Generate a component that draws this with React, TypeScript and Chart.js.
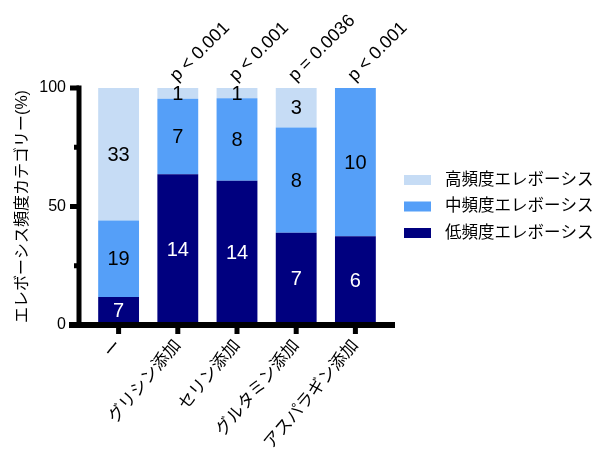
import React, { useEffect, useRef } from "react";
import { Chart, registerables } from "chart.js";

Chart.register(...registerables);

const categories = ["ー", "グリシン添加", "セリン添加", "グルタミン添加", "アスパラギン添加"];
const lowCounts = [7, 14, 14, 7, 6];
const midCounts = [19, 7, 8, 8, 10];
const highCounts = [33, 1, 1, 3, 0];
const seriesNames = ["低頻度エレボーシス", "中頻度エレボーシス", "高頻度エレボーシス"];
const seriesColors = ["#00007F", "#559FF8", "#C6DCF5"];
const labelColors = ["#FFFFFF", "#000000", "#000000"];
const pLabels = ["", "p < 0.001", "p < 0.001", "p = 0.0036", "p < 0.001"];
const majorTicks = [0, 50, 100];
const minorTicks = [25, 75];
const yTitle = "エレボーシス頻度カテゴリー(%)";

const FONT = "'Liberation Sans', Arial, 'Noto Sans CJK JP', sans-serif";

const totals = categories.map((_, i) => lowCounts[i] + midCounts[i] + highCounts[i]);
const toPct = (arr: number[]) => arr.map((v, i) => (v / totals[i]) * 100);
const countSeries = [lowCounts, midCounts, highCounts];

const decorPlugin = {
  id: "decor",
  afterDatasetsDraw(chart: any) {
    const ctx = chart.ctx;
    const ca = chart.chartArea;
    const x = chart.scales.x;
    const y = chart.scales.y;
    ctx.save();
    // data labels
    ctx.font = `20px ${FONT}`;
    ctx.textAlign = "center";
    ctx.textBaseline = "middle";
    chart.data.datasets.forEach((ds: any, di: number) => {
      const meta = chart.getDatasetMeta(di);
      meta.data.forEach((el: any, i: number) => {
        const c = countSeries[di][i];
        if (!c) return;
        ctx.fillStyle = labelColors[di];
        ctx.fillText(String(c), el.x, (el.y + el.base) / 2 + 1);
      });
    });
    // axes
    ctx.fillStyle = "#000";
    const axisX = ca.left - 10;
    const y0 = y.getPixelForValue(0);
    const y100 = y.getPixelForValue(100);
    ctx.fillRect(axisX - 2.5, y100 - 2.5, 5, y0 - y100 + 2.5);
    majorTicks.forEach((v) => {
      const py = y.getPixelForValue(v);
      ctx.fillRect(axisX - 9, py - 2.5, 9, 5);
    });
    minorTicks.forEach((v) => {
      const py = y.getPixelForValue(v);
      ctx.fillRect(axisX - 5, py - 2.5, 5, 5);
    });
    ctx.fillRect(ca.left - 20, y0 - 3, ca.right + 10 - (ca.left - 20), 6);
    categories.forEach((_, i) => {
      const px = x.getPixelForValue(i);
      ctx.fillRect(px - 2.5, y0 + 3, 5, 6);
    });
    // p labels
    ctx.font = `18px ${FONT}`;
    ctx.textAlign = "left";
    ctx.textBaseline = "alphabetic";
    ctx.fillStyle = "#000";
    pLabels.forEach((t, i) => {
      if (!t) return;
      const px = x.getPixelForValue(i) - 1;
      ctx.save();
      ctx.translate(px, ca.top - 6);
      ctx.rotate(-Math.PI / 4);
      ctx.fillText(t, 0, 0);
      ctx.restore();
    });
    // legend
    ctx.font = `16.5px ${FONT}`;
    ctx.textBaseline = "middle";
    const midY = (ca.top + ca.bottom) / 2;
    const order = [2, 1, 0];
    order.forEach((di, k) => {
      const ry = midY + (k - 1) * 26.5;
      ctx.fillStyle = chart.data.datasets[di].backgroundColor;
      ctx.fillRect(ca.right + 19, ry - 5, 27, 10);
      ctx.fillStyle = "#000";
      ctx.fillText(chart.data.datasets[di].label, ca.right + 60, ry);
    });
    ctx.restore();
  },
};

export default function App() {
  const ref = useRef<HTMLCanvasElement | null>(null);
  useEffect(() => {
    if (!ref.current) return;
    const chart = new Chart(ref.current, {
      type: "bar",
      data: {
        labels: categories,
        datasets: [lowCounts, midCounts, highCounts].map((arr, di) => ({
          label: seriesNames[di],
          data: toPct(arr),
          backgroundColor: seriesColors[di],
          borderWidth: 0,
          barPercentage: 0.69,
          categoryPercentage: 1,
        })),
      },
      options: {
        animation: false,
        responsive: false,
        maintainAspectRatio: false,
        layout: { padding: { left: 0, top: 88, right: 225, bottom: 0 } },
        plugins: { legend: { display: false }, tooltip: { enabled: false } },
        scales: {
          x: {
            stacked: true,
            grid: { display: false, drawTicks: false },
            border: { display: false },
            ticks: {
              autoSkip: false,
              maxRotation: 50,
              minRotation: 50,
              padding: 11,
              color: "#000",
              font: { family: FONT, size: 17 },
            },
            afterFit: (s: any) => {
              s.height = 139;
            },
          },
          y: {
            stacked: true,
            min: 0,
            max: 100,
            grid: { display: false, drawTicks: false },
            border: { display: false },
            ticks: {
              stepSize: 50,
              padding: 23,
              color: "#000",
              font: { family: FONT, size: 16 },
            },
            title: {
              display: true,
              text: yTitle,
              color: "#000",
              padding: { top: 13, bottom: 0 },
              font: { family: FONT, size: 16 },
            },
            afterFit: (s: any) => {
              s.width = 89;
            },
          },
        },
      },
      plugins: [decorPlugin],
    });
    return () => chart.destroy();
  }, []);
  return (
    <div style={{ position: "fixed", left: 0, top: 0, width: 610, height: 464, background: "#fff" }}>
      <canvas ref={ref} width={610} height={464} style={{ width: 610, height: 464, display: "block" }} />
    </div>
  );
}
